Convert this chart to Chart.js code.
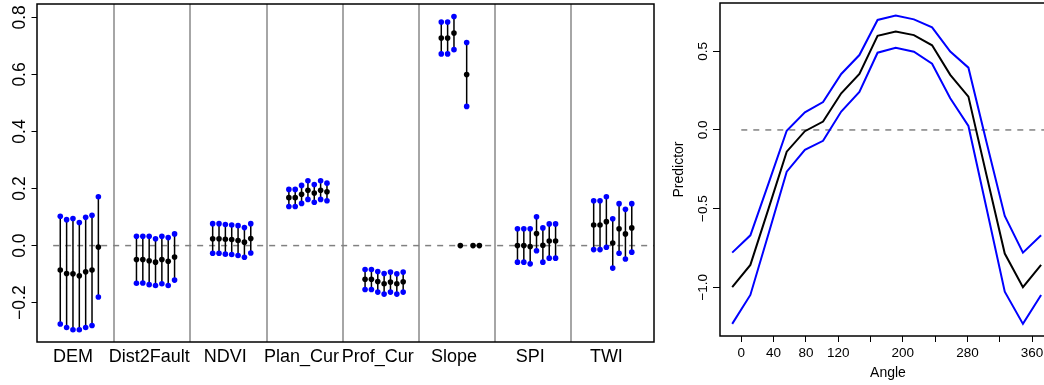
<!DOCTYPE html>
<html>
<head>
<meta charset="utf-8">
<script src="https://cdn.jsdelivr.net/npm/chart.js@4/dist/chart.umd.min.js"></script>
<style>
  html, body { margin: 0; padding: 0; background: #fff; overflow: hidden; }
  #wrap { position: relative; width: 1044px; height: 385px; overflow: hidden; }
  #left { position: absolute; left: 0; top: 0; }
  #right { position: absolute; left: 660px; top: 0; }
</style>
</head>
<body>
<div id="wrap">
  <canvas id="left" width="660" height="385"></canvas>
  <canvas id="right" width="400" height="385"></canvas>
</div>
<script>
// Datos del panel izquierdo: 8 variables x 7 modelos
const categories = ['DEM', 'Dist2Fault', 'NDVI', 'Plan_Cur', 'Prof_Cur', 'Slope', 'SPI', 'TWI'];
const estimates = [
  [-0.086, -0.098, -0.099, -0.106, -0.092, -0.086, -0.005],
  [-0.049, -0.049, -0.053, -0.058, -0.049, -0.055, -0.040],
  [0.024, 0.024, 0.022, 0.021, 0.018, 0.012, 0.025],
  [0.168, 0.168, 0.180, 0.194, 0.184, 0.194, 0.189],
  [-0.118, -0.118, -0.126, -0.134, -0.128, -0.134, -0.127],
  [0.728, 0.728, 0.745, 0, 0.600, 0, 0],
  [0.000, 0.000, -0.003, 0.042, 0.001, 0.016, 0.016],
  [0.072, 0.072, 0.084, 0.009, 0.059, 0.041, 0.062]
];
const lowerCI = [
  [-0.275, -0.287, -0.295, -0.295, -0.287, -0.280, -0.180],
  [-0.132, -0.131, -0.137, -0.140, -0.134, -0.140, -0.121],
  [-0.027, -0.027, -0.030, -0.031, -0.035, -0.041, -0.026],
  [0.137, 0.137, 0.148, 0.162, 0.152, 0.162, 0.157],
  [-0.154, -0.154, -0.163, -0.170, -0.163, -0.170, -0.163],
  [0.672, 0.672, 0.687, null, 0.488, null, null],
  [-0.058, -0.058, -0.064, -0.018, -0.058, -0.044, -0.044],
  [-0.014, -0.014, -0.006, -0.079, -0.027, -0.047, -0.023]
];
const upperCI = [
  [0.103, 0.091, 0.095, 0.081, 0.099, 0.106, 0.171],
  [0.033, 0.033, 0.033, 0.024, 0.033, 0.028, 0.041],
  [0.077, 0.077, 0.074, 0.072, 0.070, 0.063, 0.077],
  [0.197, 0.197, 0.211, 0.227, 0.214, 0.227, 0.219],
  [-0.084, -0.084, -0.091, -0.098, -0.093, -0.099, -0.093],
  [0.784, 0.784, 0.803, null, 0.712, null, null],
  [0.059, 0.059, 0.059, 0.101, 0.062, 0.076, 0.076],
  [0.157, 0.157, 0.171, 0.094, 0.147, 0.127, 0.147]
];
const coefTicks = [-0.2, 0, 0.2, 0.4, 0.6, 0.8];

// Datos del panel derecho: efecto del ángulo
const angles = [-11.25, 11.25, 33.75, 56.25, 78.75, 101.25, 123.75, 146.25, 168.75,
  191.25, 213.75, 236.25, 258.75, 281.25, 303.75, 326.25, 348.75, 371.25];
const predMean = [-1.00, -0.858, -0.50, -0.138, -0.008, 0.053, 0.233, 0.356, 0.598,
  0.625, 0.603, 0.538, 0.350, 0.212, -0.29, -0.786, -1.00, -0.858];
const predUpper = [-0.78, -0.67, -0.34, -0.005, 0.112, 0.177, 0.356, 0.476, 0.699,
  0.727, 0.703, 0.652, 0.498, 0.396, -0.08, -0.547, -0.78, -0.67];
const predLower = [-1.233, -1.049, -0.66, -0.265, -0.127, -0.069, 0.117, 0.242, 0.491,
  0.522, 0.497, 0.421, 0.201, 0.025, -0.50, -1.028, -1.233, -1.049];
const angleTicks = [0, 40, 80, 120, 160, 200, 240, 280, 320, 360];
const angleLabels = [0, 40, 80, 120, 200, 280, 360];
const predTicks = [-1, -0.5, 0, 0.5];

const FONT = "'Liberation Sans', Arial, sans-serif";

// Marco completo alrededor del área del gráfico (como box() en R)
const boxPlugin = {
  id: 'box',
  afterDatasetsDraw(chart) {
    const a = chart.chartArea;
    const ctx = chart.ctx;
    ctx.save();
    ctx.strokeStyle = '#000';
    ctx.lineWidth = 1.5;
    ctx.strokeRect(a.left, a.top, a.right - a.left, a.bottom - a.top);
    ctx.restore();
  }
};

function fmt(v) {
  return v.toFixed(1).replace('-', '\u2212');
}

// Construir los puntos del panel izquierdo
const meanPts = [];
const bluePts = [];
const whiskers = [];
categories.forEach((name, g) => {
  estimates[g].forEach((v, j) => {
    const x = g + 1 + (j - 2) / 12; // posición del modelo dentro del grupo
    meanPts.push({ x: x, y: v });
    if (lowerCI[g][j] !== null) {
      bluePts.push({ x: x, y: lowerCI[g][j] }, { x: x, y: upperCI[g][j] });
      whiskers.push({ x: x, y: lowerCI[g][j] }, { x: x, y: upperCI[g][j] }, { x: x, y: null });
    }
  });
});

const catTicks = [];
categories.forEach((name, g) => {
  catTicks.push(g + 1);
  if (g < categories.length - 1) catTicks.push(g + 1.54); // separadores
});

new Chart(document.getElementById('left'), {
  type: 'scatter',
  data: {
    datasets: [
      { data: meanPts, pointRadius: 2.8, pointBackgroundColor: '#000', pointBorderWidth: 0, order: 1 },
      { data: bluePts, pointRadius: 2.8, pointBackgroundColor: '#0000ff', pointBorderWidth: 0, order: 2 },
      { data: whiskers, showLine: true, borderColor: '#000', borderWidth: 1.5, pointRadius: 0, spanGaps: false, order: 3 },
      { data: [{ x: 0.74, y: 0 }, { x: 8.7, y: 0 }], showLine: true, borderColor: '#808080',
        borderDash: [6, 6], borderWidth: 1.5, pointRadius: 0, order: 4 }
    ]
  },
  options: {
    responsive: false,
    animation: false,
    devicePixelRatio: 1,
    layout: { padding: { top: 3, right: 6, left: 0, bottom: 0 } },
    plugins: { legend: { display: false }, tooltip: { enabled: false } },
    scales: {
      x: {
        type: 'linear',
        min: 0.528,
        max: 8.625,
        afterBuildTicks: s => { s.ticks = catTicks.map(v => ({ value: v })); },
        afterFit: s => { s.height = 43; s.paddingLeft = 0; s.paddingRight = 0; },
        border: { display: false },
        grid: {
          drawTicks: false,
          lineWidth: 2,
          color: c => (Number.isInteger(c.tick.value) ? 'rgba(0,0,0,0)' : '#a6a6a6')
        },
        ticks: {
          autoSkip: false, minRotation: 0, maxRotation: 0, padding: 4,
          color: '#000', font: { family: FONT, size: 18 },
          callback: v => (Number.isInteger(v) ? categories[v - 1] : '')
        }
      },
      y: {
        min: -0.338,
        max: 0.847,
        afterBuildTicks: s => { s.ticks = coefTicks.map(v => ({ value: v })); },
        afterFit: s => { s.width = 37; s.paddingTop = 0; s.paddingBottom = 0; },
        border: { display: false },
        grid: { drawOnChartArea: false, drawTicks: true, tickLength: 5.5, tickColor: '#000', tickWidth: 1 },
        ticks: {
          minRotation: 90, maxRotation: 90, crossAlign: 'center', padding: -6,
          color: '#000', font: { family: FONT, size: 17.5 },
          callback: v => fmt(v)
        }
      }
    }
  },
  plugins: [boxPlugin]
});

// Panel derecho: líneas del efecto y sus bandas
const pts = arr => angles.map((a, i) => ({ x: a, y: arr[i] }));

new Chart(document.getElementById('right'), {
  type: 'scatter',
  data: {
    datasets: [
      { data: pts(predMean), showLine: true, borderColor: '#000', borderWidth: 2, pointRadius: 0, order: 1 },
      { data: pts(predUpper), showLine: true, borderColor: '#0000ff', borderWidth: 2, pointRadius: 0, order: 2 },
      { data: pts(predLower), showLine: true, borderColor: '#0000ff', borderWidth: 2, pointRadius: 0, order: 3 },
      { data: [{ x: 0, y: 0 }, { x: 400, y: 0 }], showLine: true, borderColor: '#808080',
        borderDash: [6, 6], borderWidth: 1.5, pointRadius: 0, order: 4 }
    ]
  },
  options: {
    responsive: false,
    animation: false,
    devicePixelRatio: 1,
    layout: { padding: { top: 3, right: 4, left: 0, bottom: 0 } },
    plugins: { legend: { display: false }, tooltip: { enabled: false } },
    scales: {
      x: {
        type: 'linear',
        min: -26.36,
        max: 389.7,
        afterBuildTicks: s => { s.ticks = angleTicks.map(v => ({ value: v })); },
        afterFit: s => { s.height = 49; s.paddingLeft = 0; s.paddingRight = 0; },
        border: { display: false },
        grid: { drawOnChartArea: false, drawTicks: true, tickLength: 6, tickColor: '#000', tickWidth: 1 },
        ticks: {
          autoSkip: false, minRotation: 0, maxRotation: 0, padding: 3.5,
          color: '#000', font: { family: FONT, size: 13.5 },
          callback: v => (angleLabels.includes(v) ? String(v) : '')
        },
        title: {
          display: true, text: 'Angle', color: '#000',
          font: { family: FONT, size: 14 }, padding: { top: 0, bottom: 3 }
        }
      },
      y: {
        min: -1.31,
        max: 0.807,
        afterBuildTicks: s => { s.ticks = predTicks.map(v => ({ value: v })); },
        afterFit: s => { s.width = 60; s.paddingTop = 0; s.paddingBottom = 0; },
        border: { display: false },
        grid: { drawOnChartArea: false, drawTicks: true, tickLength: 7, tickColor: '#000', tickWidth: 1 },
        ticks: {
          minRotation: 90, maxRotation: 90, crossAlign: 'center', padding: -3.5,
          color: '#000', font: { family: FONT, size: 13.5 },
          callback: v => fmt(v)
        },
        title: {
          display: true, text: 'Predictor', color: '#000',
          font: { family: FONT, size: 14 }, padding: { top: 11, bottom: 0 }
        }
      }
    }
  },
  plugins: [boxPlugin]
});
</script>
</body>
</html>
